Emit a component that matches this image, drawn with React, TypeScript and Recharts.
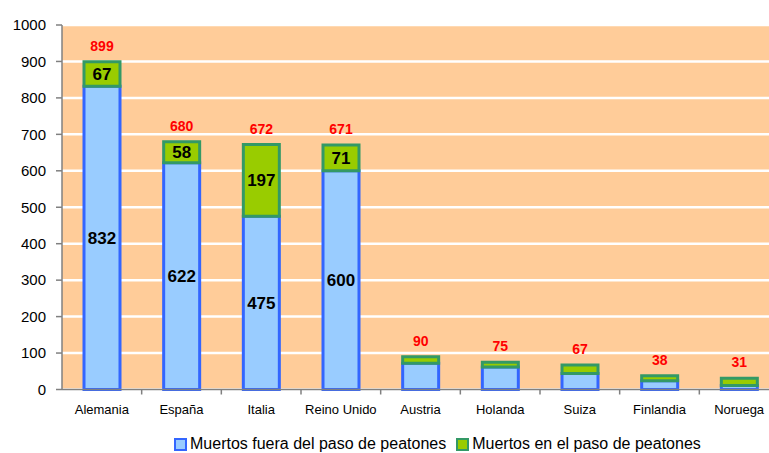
import { BarChart, Bar, XAxis, YAxis, CartesianGrid, Legend, LabelList } from "recharts";

const countries = ["Alemania", "España", "Italia", "Reino Unido", "Austria", "Holanda", "Suiza", "Finlandia", "Noruega"];
const outsideCrossing = [832, 622, 475, 600, 72, 62, 44, 24, 11];
const onCrossing = [67, 58, 197, 71, 18, 13, 23, 14, 20];
const totals = [899, 680, 672, 671, 90, 75, 67, 38, 31];
const showInside = [true, true, true, true, false, false, false, false, false];
const yTicks = [0, 100, 200, 300, 400, 500, 600, 700, 800, 900, 1000];

const data = countries.map((name, i) => ({
  name,
  fuera: outsideCrossing[i],
  en: onCrossing[i],
  total: totals[i],
  inside: showInside[i],
}));

const W = 790;
const H = 453;
const PLOT_LEFT = 62;
const PLOT_RIGHT = 11;
const BAND = (W - PLOT_LEFT - PLOT_RIGHT) / countries.length;

function XTick(props: any) {
  const { x, y, payload } = props;
  return (
    <g>
      <line x1={x + BAND / 2} y1={y - 8} x2={x + BAND / 2} y2={y - 3} stroke="#808080" strokeWidth={1.5} />
      <text x={x} y={y + 16} textAnchor="middle" fontSize={13} fill="#000">
        {payload.value}
      </text>
    </g>
  );
}

function insideLabel(key: "fuera" | "en") {
  return (props: any) => {
    const { x, y, width, height, index } = props;
    if (!data[index].inside) return null;
    return (
      <text x={x + width / 2} y={y + height / 2 + 6} textAnchor="middle" fontSize={17} fontWeight="bold" fill="#000">
        {data[index][key]}
      </text>
    );
  };
}

function totalLabel(props: any) {
  const { x, y, width, index } = props;
  return (
    <text x={x + width / 2} y={y - 11} textAnchor="middle" fontSize={14} fontWeight="bold" fill="#FF0000">
      {data[index].total}
    </text>
  );
}

function LegendContent() {
  const item = (fill: string, stroke: string, label: string) => (
    <span style={{ display: "inline-flex", alignItems: "center", marginRight: 10 }}>
      <span style={{ display: "inline-block", width: 9, height: 9, background: fill, border: `2px solid ${stroke}`, marginRight: 3 }} />
      <span>{label}</span>
    </span>
  );
  return (
    <div style={{ fontSize: 16, lineHeight: "16px", color: "#000", fontFamily: "Liberation Sans, Arial, sans-serif", whiteSpace: "nowrap" }}>
      {item("#99CCFF", "#3366FF", "Muertos fuera del paso de peatones")}
      {item("#99CC00", "#339966", "Muertos en el paso de peatones")}
    </div>
  );
}

export default function App() {
  return (
    <div style={{ position: "absolute", left: 0, top: 0, width: 769, height: 453, overflow: "hidden", background: "#fff", fontFamily: "Liberation Sans, Arial, sans-serif" }}>
      <BarChart width={W} height={H} data={data} margin={{ top: 25, right: PLOT_RIGHT, left: 0, bottom: 16 }} barSize={36}>
        <CartesianGrid horizontal vertical={false} stroke="#FFFFFF" strokeWidth={2.5} fill="#FFCC99" fillOpacity={1} />
        <XAxis dataKey="name" tick={<XTick />} tickLine={false} axisLine={{ stroke: "#808080", strokeWidth: 1.5 }} interval={0} height={30} />
        <YAxis domain={[0, 1000]} ticks={yTicks} width={PLOT_LEFT} tick={{ fontSize: 15, fill: "#000" }} axisLine={{ stroke: "#808080", strokeWidth: 1.5 }} tickLine={{ stroke: "#808080", strokeWidth: 1.5 }} tickSize={6} tickMargin={10} interval={0} />
        <Legend content={<LegendContent />} wrapperStyle={{ position: "absolute", left: 174, top: 436, width: "auto" }} />
        <Bar dataKey="fuera" stackId="a" fill="#99CCFF" stroke="#3366FF" strokeWidth={3} isAnimationActive={false}>
          <LabelList dataKey="fuera" content={insideLabel("fuera")} />
        </Bar>
        <Bar dataKey="en" stackId="a" fill="#99CC00" stroke="#339966" strokeWidth={3} isAnimationActive={false}>
          <LabelList dataKey="en" content={insideLabel("en")} />
          <LabelList dataKey="total" content={totalLabel} />
        </Bar>
      </BarChart>
    </div>
  );
}
